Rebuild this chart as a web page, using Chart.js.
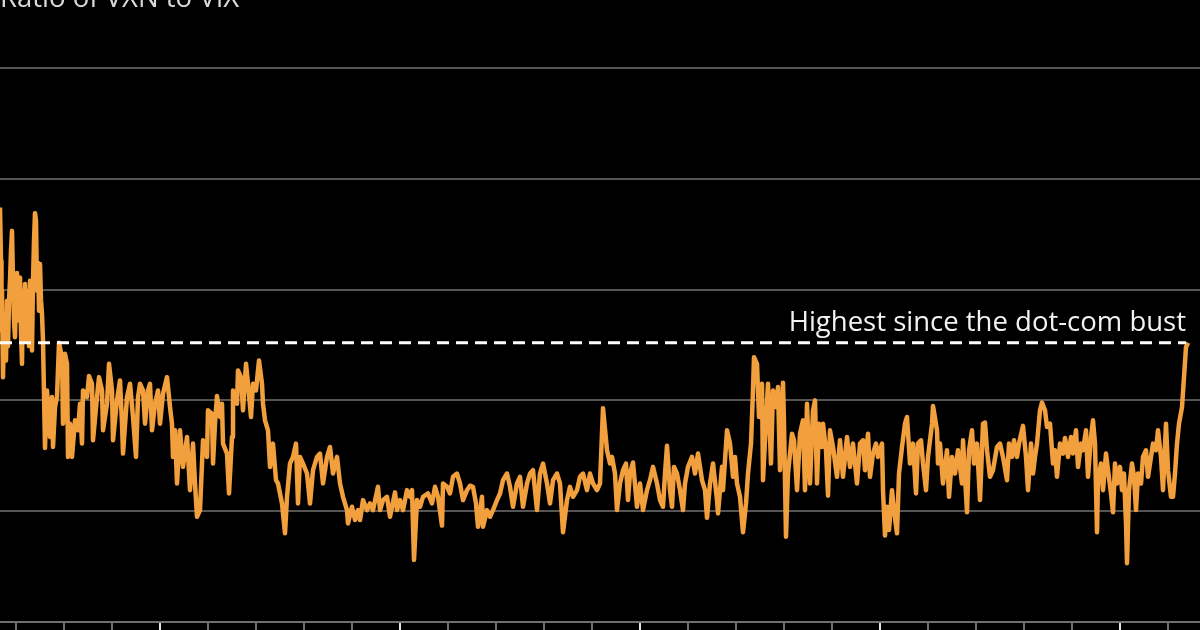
<!DOCTYPE html>
<html lang="en">
  <head>
    <meta charset="UTF-8" />
    <meta name="viewport" content="width=device-width, initial-scale=1.0" />
    <title>Ratio of VXN to VIX</title>
    <script src="https://cdn.jsdelivr.net/npm/chart.js"></script>
    <style>
      html,
      body {
        margin: 0;
        padding: 0;
        background-color: #000;
        overflow: hidden;
      }
      .chart-container {
        position: absolute;
        left: 0;
        top: -17px;
        width: 1200px;
        height: 647px;
      }
    </style>
  </head>

  <body>
    <div class="chart-container">
      <canvas id="chart"></canvas>
    </div>

    <script>
      // months since mid-1999 (one minor tick = one year)
      const months = [
        0, 0.25, 0.375, 0.5, 0.75, 1, 1.25, 1.5, 1.75, 2,
        2.25, 2.5, 2.75, 3, 3.25, 3.5, 3.75, 4, 4.25, 4.5,
        4.75, 5, 5.25, 5.5, 5.75, 6, 6.25, 6.5, 6.75, 7,
        7.25, 7.5, 7.75, 8, 8.25, 8.5, 8.75, 9, 9.25, 9.5,
        9.75, 10, 10.25, 10.5, 10.75, 11.25, 11.75, 12.5, 13, 13.25, 13.75, 14.25, 14.75,
        15.5, 15.75, 16.25, 16.75, 17, 17.5, 18, 18.75, 19.5, 20,
        20.5, 20.75, 21.75, 22.25, 23, 23.25, 24.25, 24.75, 25.5, 25.75,
        26.75, 27.25, 28, 28.25, 29.25, 30, 30.5, 30.75, 31.75, 32.5,
        33.25, 34, 34.5, 35, 35.75, 36.25, 37, 37.5, 38, 38.75,
        39.5, 40, 40.75, 41.75, 42.5, 43, 43.25, 43.75, 44.25, 45,
        45.75, 46.75, 47.5, 48.25, 48.75, 49.25, 50, 50.75, 51.75, 52,
        53, 53.25, 53.75, 54.25, 55, 55.5, 55.75, 56.75, 57.25, 58,
        58.25, 59.25, 59.5, 60.25, 60.75, 61.5, 62, 62.75, 63.25, 64,
        64.75, 65.5, 65.75, 66.25, 67, 67.5, 68.25, 69, 69.5, 70.5,
        71.25, 71.75, 72.5, 73.25, 74, 74.5, 75, 75.75, 76.75, 77.5,
        78.25, 79.25, 80, 80.75, 81.75, 82.5, 83.25, 84.25, 85, 85.75,
        86.75, 87, 88, 88.75, 89.5, 90, 90.75, 91.75, 92.5, 93.25,
        94.5, 95, 95.75, 96.75, 97.5, 98.75, 99.25, 100, 100.75, 101.75,
        102.5, 103, 103.5, 104.25, 105, 105.75, 107, 108, 108.75, 109.5,
        110.5, 110.75, 111.75, 112.5, 113.25, 114.25, 115, 115.75, 116.75, 117.5,
        118.25, 119, 119.5, 120.5, 120.75, 121.75, 122.5, 123.25, 124.25, 125,
        125.75, 126.75, 127.5, 128.25, 129.25, 130, 130.75, 131.75, 132.5, 133.25,
        134.25, 135, 135.75, 136.75, 137.5, 138.25, 139.25, 140, 140.75, 141.75,
        142.5, 143.25, 144.25, 145, 145.75, 146.75, 147.5, 148.25, 149.25, 150,
        150.75, 151.75, 152.5, 153, 153.75, 154.25, 155, 155.75, 156.5, 157,
        157.5, 158.25, 159.25, 160, 160.75, 161.75, 162.5, 163.25, 164.25, 165,
        165.75, 166.25, 166.75, 167.5, 168, 168.5, 169.25, 170, 170.75, 171.25,
        172, 173, 173.75, 174.5, 175.5, 176.25, 176.75, 177.5, 178.25, 179.25,
        179.5, 180.5, 180.75, 181.75, 182.5, 183.25, 183.75, 184.25, 185, 185.75,
        186.5, 187, 187.75, 188.25, 188.5, 189.25, 189.75, 190.5, 190.75, 191.5,
        192, 192.75, 193.25, 194, 194.5, 195, 195.75, 196, 196.5, 197,
        198, 198.5, 199.25, 200, 200.75, 201.25, 201.75, 202.5, 203.25, 203.75,
        204.25, 204.75, 205.5, 205.75, 206.5, 207, 207.5, 208.25, 209.25, 210,
        210.75, 211.75, 212.5, 213.25, 214.25, 215, 215.75, 216.25, 217, 217.5,
        218.25, 219, 219.5, 220.5, 220.75, 221.25, 221.75, 222.25, 223, 223.5,
        224.25, 224.75, 225.5, 226.25, 226.75, 227.5, 228.25, 229, 229.5, 230.25,
        230.75, 231.5, 232, 233, 233.25, 234.25, 234.5, 235, 235.75, 236.75,
        237.25, 238, 238.75, 239.5, 240.5, 240.75, 241.75, 242.25, 243, 243.5,
        244.25, 245, 245.75, 246.25, 246.75, 247.5, 248.25, 249.25, 250, 250.75,
        251.75, 252.25, 253, 253.5, 254.25, 254.75, 255.5, 255.75, 256.5, 257,
        257.75, 258.25, 258.75, 259.25, 260, 260.5, 261.25, 261.75, 262.5, 263.25,
        263.75, 264.25, 265, 265.75, 266.25, 267, 267.75, 268.25, 269, 269.5,
        270.25, 270.75, 271.5, 272, 272.75, 273.25, 273.75, 274.25, 274.5, 275.25,
        275.75, 276.5, 277, 277.75, 278.25, 278.75, 279.25, 280, 280.5, 281,
        281.5, 281.75, 282.25, 283, 283.5, 284, 284.5, 285.25, 285.75, 286.5,
        287, 287.75, 288.25, 289, 289.5, 290.25, 290.75, 291.5, 292, 292.75,
        293.25, 293.75, 294.25, 294.75, 295.5, 296, 296.5, 297,
      ];

      // VXN / VIX
      const ratios = [
        1.374, 1.326, 1.263, 1.299, 1.221, 1.263, 1.275, 1.236, 1.290, 1.249,
        1.290, 1.308, 1.335, 1.353, 1.308, 1.272, 1.257, 1.299, 1.315, 1.272,
        1.299, 1.311, 1.263, 1.233, 1.299, 1.263, 1.305, 1.254, 1.290, 1.299,
        1.249, 1.308, 1.272, 1.245, 1.308, 1.344, 1.369, 1.362, 1.299, 1.324,
        1.281, 1.323, 1.290, 1.278, 1.254, 1.157, 1.209, 1.167, 1.203, 1.158, 1.194, 1.203, 1.252,
        1.239, 1.179, 1.242, 1.233, 1.149, 1.179, 1.149, 1.182, 1.173, 1.197,
        1.161, 1.209, 1.203, 1.222, 1.215, 1.164, 1.203, 1.221, 1.209, 1.173,
        1.197, 1.233, 1.209, 1.164, 1.200, 1.218, 1.179, 1.152, 1.203, 1.215,
        1.185, 1.149, 1.203, 1.215, 1.209, 1.179, 1.209, 1.215, 1.173, 1.197,
        1.209, 1.179, 1.206, 1.221, 1.194, 1.179, 1.149, 1.173, 1.125, 1.173,
        1.140, 1.167, 1.119, 1.161, 1.125, 1.095, 1.101, 1.164, 1.149, 1.191,
        1.188, 1.143, 1.179, 1.204, 1.185, 1.197, 1.161, 1.152, 1.116, 1.167,
        1.209, 1.197, 1.227, 1.221, 1.191, 1.233, 1.215, 1.185, 1.215, 1.209,
        1.236, 1.215, 1.197, 1.182, 1.173, 1.140, 1.161, 1.128, 1.125, 1.107,
        1.080, 1.113, 1.143, 1.149, 1.161, 1.107, 1.149, 1.143, 1.134, 1.107,
        1.137, 1.149, 1.152, 1.125, 1.149, 1.158, 1.134, 1.149, 1.125, 1.113,
        1.101, 1.089, 1.104, 1.092, 1.101, 1.092, 1.110, 1.101, 1.107, 1.101,
        1.122, 1.101, 1.110, 1.113, 1.095, 1.117, 1.101, 1.110, 1.101, 1.119,
        1.113, 1.119, 1.056, 1.110, 1.104, 1.113, 1.116, 1.107, 1.122, 1.113,
        1.087, 1.125, 1.122, 1.116, 1.131, 1.134, 1.125, 1.110, 1.119, 1.123,
        1.122, 1.107, 1.086, 1.113, 1.086, 1.101, 1.095, 1.101, 1.110, 1.116,
        1.128, 1.134, 1.122, 1.104, 1.125, 1.131, 1.104, 1.125, 1.134, 1.137,
        1.101, 1.134, 1.143, 1.125, 1.107, 1.128, 1.134, 1.125, 1.081, 1.110,
        1.122, 1.113, 1.119, 1.131, 1.134, 1.119, 1.134, 1.125, 1.119, 1.125,
        1.193, 1.155, 1.143, 1.149, 1.134, 1.101, 1.125, 1.137, 1.143, 1.110,
        1.134, 1.144, 1.104, 1.125, 1.101, 1.119, 1.128, 1.140, 1.125, 1.110,
        1.104, 1.134, 1.159, 1.119, 1.104, 1.140, 1.134, 1.119, 1.101, 1.125,
        1.140, 1.149, 1.134, 1.152, 1.128, 1.119, 1.094, 1.125, 1.143, 1.110,
        1.098, 1.140, 1.119, 1.173, 1.161, 1.131, 1.149, 1.125, 1.113, 1.081,
        1.107, 1.134, 1.161, 1.209, 1.239, 1.233, 1.185, 1.215, 1.128, 1.182,
        1.215, 1.143, 1.209, 1.194, 1.212, 1.137, 1.216, 1.179, 1.077, 1.134,
        1.170, 1.164, 1.119, 1.170, 1.182, 1.119, 1.197, 1.125, 1.191, 1.200,
        1.125, 1.179, 1.158, 1.179, 1.155, 1.114, 1.173, 1.158, 1.131, 1.164,
        1.131, 1.167, 1.140, 1.161, 1.125, 1.161, 1.164, 1.137, 1.170, 1.131,
        1.152, 1.161, 1.149, 1.161, 1.119, 1.078, 1.104, 1.083, 1.119, 1.101,
        1.080, 1.134, 1.158, 1.179, 1.185, 1.143, 1.161, 1.116, 1.161, 1.164,
        1.143, 1.119, 1.149, 1.179, 1.195, 1.173, 1.143, 1.161, 1.125, 1.155,
        1.113, 1.149, 1.134, 1.155, 1.125, 1.164, 1.099, 1.155, 1.173, 1.143,
        1.161, 1.110, 1.179, 1.180, 1.155, 1.131, 1.137, 1.158, 1.161, 1.149,
        1.128, 1.161, 1.149, 1.164, 1.149, 1.161, 1.173, 1.177, 1.149, 1.119,
        1.161, 1.134, 1.149, 1.161, 1.191, 1.198, 1.191, 1.176, 1.179, 1.143,
        1.155, 1.131, 1.161, 1.152, 1.166, 1.149, 1.167, 1.152, 1.173, 1.140,
        1.161, 1.155, 1.173, 1.131, 1.167, 1.182, 1.161, 1.081, 1.128, 1.143,
        1.119, 1.152, 1.137, 1.116, 1.099, 1.143, 1.125, 1.140, 1.119, 1.134,
        1.089, 1.053, 1.119, 1.143, 1.131, 1.101, 1.134, 1.125, 1.149, 1.155,
        1.131, 1.149, 1.161, 1.155, 1.173, 1.149, 1.119, 1.179, 1.137, 1.113,
        1.113, 1.134, 1.161, 1.179, 1.194, 1.221, 1.248, 1.252,
      ];

      // yearly ticks on the time axis, every fifth one is a major tick
      const tickMonths = [
        4, 16, 28, 40, 52, 64, 76, 88, 100, 112, 124, 136, 148, 160, 172,
        184, 196, 208, 220, 232, 244, 256, 268, 280, 292,
      ];
      const majorMonths = [40, 100, 160, 220, 280];

      // reference level: highest since the dot-com bust
      const refLevel = 1.252;
      const refStart = 0;
      const refEnd = 296.5;

      const titleText = "Ratio of VXN to VIX";
      const noteText = "Highest since the dot-com bust";

      const ratioPoints = months.map((m, i) => ({ x: m, y: ratios[i] }));

      // label above the dashed line, right aligned to its end
      const noteLabel = {
        id: "noteLabel",
        afterDatasetsDraw(chart) {
          const { ctx, scales } = chart;
          ctx.save();
          ctx.font = '27.5px "Open Sans"';
          ctx.fillStyle = "#f2f2f2";
          ctx.textAlign = "right";
          ctx.textBaseline = "alphabetic";
          ctx.fillText(
            noteText,
            scales.x.getPixelForValue(refEnd),
            scales.y.getPixelForValue(refLevel) - 12
          );
          ctx.restore();
        },
      };

      const ctx = document.getElementById("chart").getContext("2d");

      new Chart(ctx, {
        type: "line",
        data: {
          datasets: [
            {
              label: "Highest since the dot-com bust",
              data: [
                { x: refStart, y: refLevel },
                { x: refEnd, y: refLevel },
              ],
              borderColor: "#ffffff",
              borderWidth: 3,
              borderDash: [12, 7],
              pointRadius: 0,
              order: 0,
            },
            {
              label: titleText,
              data: ratioPoints,
              borderColor: "#f2a03d",
              borderWidth: 4.5,
              borderJoinStyle: "round",
              pointRadius: 0,
              tension: 0,
              order: 1,
            },
          ],
        },
        options: {
          responsive: true,
          maintainAspectRatio: false,
          animation: false,
          layout: { padding: 0 },
          plugins: {
            legend: { display: false },
            tooltip: { enabled: false },
            title: {
              display: true,
              text: titleText,
              align: "start",
              color: "#d9d9d9",
              font: {
                family: "Open Sans",
                size: 27.5,
                weight: "normal",
                lineHeight: 1.2,
              },
              padding: { top: 0, bottom: 52 },
            },
          },
          scales: {
            x: {
              type: "linear",
              min: 0,
              max: 300,
              afterBuildTicks: (scale) => {
                scale.ticks = tickMonths.map((v) => ({ value: v }));
              },
              ticks: { display: false },
              grid: {
                drawOnChartArea: false,
                drawTicks: true,
                tickLength: 8,
                lineWidth: 2,
                color: (c) =>
                  c.tick && majorMonths.includes(c.tick.value)
                    ? "#e6e6e6"
                    : "#6e6e6e",
              },
              border: { display: true, color: "#6e6e6e", width: 2 },
            },
            y: {
              min: 1.0,
              max: 1.5,
              ticks: { display: false, stepSize: 0.1 },
              grid: { color: "#555555", lineWidth: 2, drawTicks: false },
              border: { display: false },
            },
          },
        },
        plugins: [noteLabel],
      });
    </script>
  </body>
</html>
